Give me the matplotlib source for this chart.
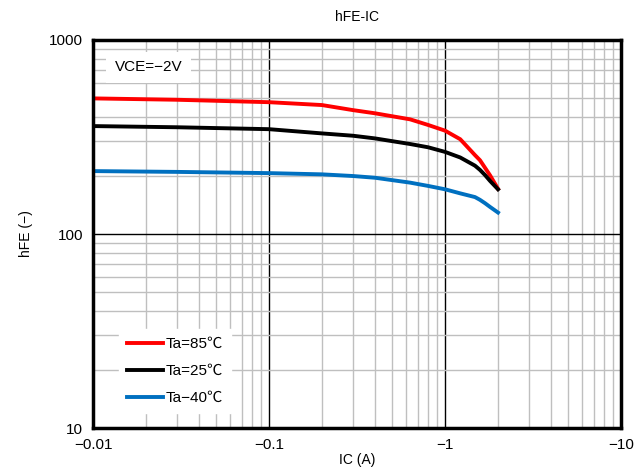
import matplotlib.pyplot as plt
from matplotlib.ticker import FixedLocator, FuncFormatter, LogLocator, NullFormatter

plt.rcParams['font.family'] = ['Liberation Sans', 'Noto Sans CJK JP', 'DejaVu Sans']

# collector current magnitude (A); plotted as IC = -value
ic = [0.01, 0.03, 0.1, 0.2, 0.3, 0.4, 0.633, 0.8, 1.0, 1.22, 1.48, 1.58, 1.69, 1.8, 2.0]
hfe_85 = [500, 492, 478, 462, 435, 419, 390, 365, 341, 308, 255, 240, 219, 201, 171]
hfe_25 = [360, 355, 347, 330, 321, 311, 291, 280, 265, 248, 225, 214, 201, 188, 170]
hfe_m40 = [211, 209, 206, 203, 199, 195, 184, 177, 170, 162, 155, 150, 144, 138, 129]

labels = ['Ta=85\u2103', 'Ta=25\u2103', 'Ta\u221240\u2103']
colors = ['#ff0000', '#000000', '#0070c0']

fig = plt.figure(figsize=(6.38, 4.75), dpi=100)
ax = fig.add_axes([0.1458, 0.0989, 0.8276, 0.8169])

for y, lab, c in zip([hfe_85, hfe_25, hfe_m40], labels, colors):
    ax.plot(ic, y, color=c, lw=2.8, label=lab, solid_joinstyle='round')

ax.set_xscale('log')
ax.set_yscale('log')
ax.set_xlim(0.01, 10)
ax.set_ylim(10, 1000)

ax.xaxis.set_major_locator(FixedLocator([0.01, 0.1, 1, 10]))
ax.yaxis.set_major_locator(FixedLocator([10, 100, 1000]))
ax.xaxis.set_minor_locator(LogLocator(base=10, subs=range(2, 10)))
ax.yaxis.set_minor_locator(LogLocator(base=10, subs=range(2, 10)))
ax.xaxis.set_minor_formatter(NullFormatter())
ax.yaxis.set_minor_formatter(NullFormatter())
ax.xaxis.set_major_formatter(FuncFormatter(lambda v, p: '\u2212' + ('%g' % v)))
ax.yaxis.set_major_formatter(FuncFormatter(lambda v, p: '%d' % v))

ax.grid(which='minor', color='#bfbfbf', lw=1.0)
ax.grid(which='major', color='black', lw=1.0)
ax.set_axisbelow(True)
ax.tick_params(which='both', length=0, labelsize=11, pad=7)

for s in ax.spines.values():
    s.set_linewidth(2.5)

ax.set_title('hFE-IC', fontsize=10, pad=14)
ax.set_xlabel('IC (A)', fontsize=10, labelpad=1)
ax.set_ylabel('hFE (\u2212)', fontsize=10, labelpad=12)

ax.text(0.105, 0.93, 'VCE=\u22122V', transform=ax.transAxes, fontsize=11, va='center',
        ha='center', bbox=dict(facecolor='white', edgecolor='none', pad=6))

leg = ax.legend(loc='lower left', bbox_to_anchor=(0.035, 0.02), fontsize=11,
                handlelength=2.4, handletextpad=0.15, labelspacing=0.85,
                frameon=True, fancybox=False, borderpad=0.5)
leg.get_frame().set_edgecolor('white')
leg.get_frame().set_alpha(1)

fig.savefig('out.png', dpi=100)
